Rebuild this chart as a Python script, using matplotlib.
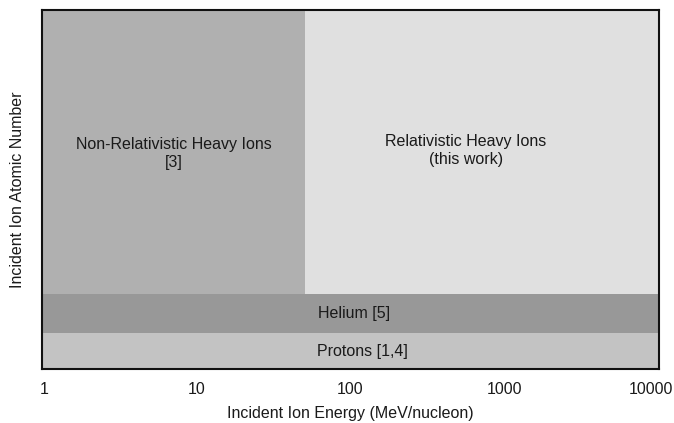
import matplotlib
matplotlib.use("Agg")
import matplotlib.pyplot as plt
from matplotlib.patches import Rectangle
from matplotlib.transforms import ScaledTranslation

plt.rcParams['font.family'] = ['Liberation Sans', 'DejaVu Sans']

# Regions: (label, x_start, x_end, y_start, y_end, color)
region_labels = ["Protons [1,4]", "Helium [5]",
                 "Non-Relativistic Heavy Ions\n[3]", "Relativistic Heavy Ions\n(this work)"]
x_start = [1, 1, 1, 51]
x_end = [10000, 10000, 51, 10000]
y_start = [0, 1.0, 2.1, 2.1]
y_end = [1.0, 2.1, 10, 10]
colors = ["#c3c3c3", "#989898", "#b0b0b0", "#e0e0e0"]
label_x = [120, 105, 7.2, 560]
label_y = [0.5, 1.55, 6.0, 6.1]

xticks = [1, 10, 100, 1000, 10000]
xticklabels = ["1", "10", "100", "1000", "10000"]

fig = plt.figure(figsize=(6.74, 4.23), dpi=100)
ax = fig.add_axes([42/674, 1 - 369/423, 617/674, 359/423])
ax.set_xscale('log')
ax.set_xlim(1, 10000)
ax.set_ylim(0, 10)

for lab, x0, x1, y0, y1, c, lx, ly in zip(region_labels, x_start, x_end, y_start, y_end,
                                          colors, label_x, label_y):
    ax.add_patch(Rectangle((x0, y0), x1 - x0, y1 - y0, facecolor=c, edgecolor='none', zorder=1))
    ax.text(lx, ly, lab, ha='center', va='center', fontsize=11.5, color='#1a1a1a',
            linespacing=1.25, zorder=3)

ax.set_xticks(xticks)
ax.set_xticklabels(xticklabels)
ax.minorticks_off()
ax.tick_params(axis='x', length=0, pad=9, labelsize=11.5, labelcolor='#1a1a1a')
ax.set_yticks([])
tl = ax.get_xticklabels()
tl[0].set_transform(tl[0].get_transform() + ScaledTranslation(2/100, 0, fig.dpi_scale_trans))
tl[-1].set_transform(tl[-1].get_transform() + ScaledTranslation(-8/100, 0, fig.dpi_scale_trans))
for s in ax.spines.values():
    s.set_linewidth(1.5)
    s.set_color('#111111')
    s.set_zorder(5)

ax.set_xlabel("Incident Ion Energy (MeV/nucleon)", fontsize=11.5, labelpad=7, color='#1a1a1a')
ax.set_ylabel("Incident Ion Atomic Number", fontsize=11.5, labelpad=12, color='#1a1a1a')

fig.savefig("out.png", dpi=100)
